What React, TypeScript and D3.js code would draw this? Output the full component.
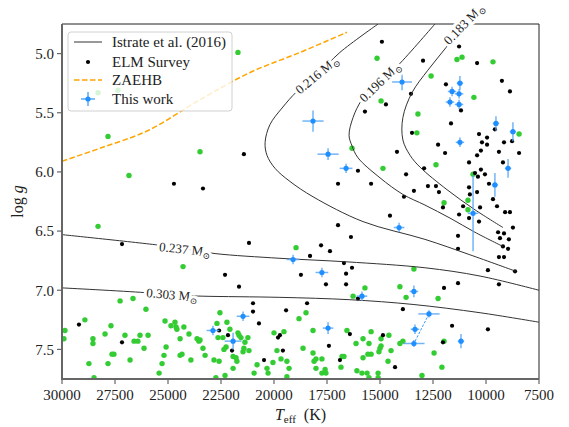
import React from 'react';
import * as d3 from 'd3';

const W = 569;
const H = 427;
const PX = { left: 62, right: 539, top: 24, bottom: 379 };

const xTicks = [30000, 27500, 25000, 22500, 20000, 17500, 15000, 12500, 10000, 7500];
const yTicks = [5.0, 5.5, 6.0, 6.5, 7.0, 7.5];

// other white dwarfs (green)
const otherWDs: [number, number][] = [
  [21700,4.99],[28300,5.33],[27360,5.31],[27830,5.70],[23490,5.83],[26840,6.03],[28300,6.46],[24290,6.80],
  [15140,5.04],[11370,5.05],[11130,5.03],[9670,5.07],[12590,5.19],[10570,5.37],[14950,5.40],[13210,5.51],[8440,5.68],[13260,5.67],[16320,5.80],[14860,5.97],[12360,5.94],[10610,6.02],[11980,6.26],[10850,6.24],[10850,6.32],[18960,6.64],[13400,6.82],
  [27260,7.09],[26650,7.07],[26040,7.16],[28920,7.25],[29860,7.34],[29910,7.41],[27690,7.30],[27970,7.37],[28540,7.41],[28540,7.45],[27030,7.38],[26320,7.38],[25940,7.38],[26600,7.43],[26420,7.43],[26130,7.49],[25140,7.26],[24860,7.30],[24670,7.27],[24620,7.31],[24580,7.33],[24250,7.31],[24010,7.37],[24430,7.41],[23630,7.41],[23540,7.43],[25090,7.48],[27640,7.54],[27550,7.54],[26790,7.59],[28730,7.62],[27830,7.62],[25280,7.62],[25190,7.55],[24430,7.55],[24340,7.54],[23920,7.59],[25420,7.70],[28490,7.74],
  [22550,7.19],[18490,7.19],[18820,7.24],[22690,7.28],[22220,7.27],[22080,7.33],[22640,7.40],[22410,7.40],[21700,7.36],[21650,7.38],[21560,7.40],[21230,7.40],[23350,7.49],[22260,7.48],[22360,7.50],[21370,7.44],[21420,7.49],[21460,7.52],[21180,7.51],[23250,7.55],[21930,7.56],[21750,7.60],[21790,7.57],[22830,7.59],[22590,7.60],[20000,7.36],[19530,7.35],[19860,7.51],[19670,7.58],[19390,7.60],[20800,7.63],[20050,7.61],[21930,7.66],[20330,7.66],[20280,7.70],[19290,7.66],[22310,7.72],[20940,7.70],[19390,7.73],[22740,7.74],[18160,7.34],[18630,7.49],[18160,7.53],[18020,7.58],[18110,7.60],[17740,7.58],[18020,7.66],[17590,7.67],[17740,7.70],[17550,7.70],[23490,7.42],
  [15710,6.98],[16270,7.05],[14060,6.97],[13770,7.06],[12260,7.07],[11980,7.43],[13920,7.43],[14060,7.45],[16560,7.34],[15420,7.35],[14580,7.38],[14950,7.41],[16130,7.45],[15800,7.41],[15520,7.45],[14950,7.47],[15000,7.49],[15050,7.52],[14480,7.51],[15570,7.54],[15420,7.54],[15800,7.57],[14620,7.60],[16790,7.56],[16700,7.56],[16840,7.65],[12450,7.53],[12080,7.65],[16090,7.68],[15850,7.70],[15610,7.70],[15090,7.70],[15520,7.74],[15090,7.74],[13020,7.72],
];

// ELM Survey (black)
const elmSurvey: [number, number][] = [
  [21420,5.85],[24720,6.10],[23350,6.14],[27170,6.61],[21180,6.60],[22310,6.87],[21650,6.97],[20990,7.11],[20990,7.18],[19430,7.17],[20710,7.28],[29200,7.29],[27170,7.44],
  [14910,4.90],[12970,5.06],[11270,4.94],[10420,5.08],[11890,5.26],[9250,5.23],[8870,5.32],[14720,5.43],[15710,5.49],[11180,5.48],[13540,5.34],[11650,5.59],[9580,5.64],[13490,5.67],[10330,5.68],[9950,5.71],
  [10190,5.75],[9950,5.77],[12260,5.77],[9150,5.75],[8770,5.74],[10240,5.82],[9390,5.83],[8440,5.84],[11930,5.84],[10420,5.86],[14200,5.83],[10800,5.92],[9200,5.92],[12920,5.97],[16040,5.99],[13770,6.02],
  [10240,5.98],[10520,6.01],[10050,6.02],[10380,6.04],[9860,6.10],[16980,6.10],[15420,6.10],[12740,6.12],[12360,6.12],[13400,6.16],[12220,6.17],[10800,6.13],[10420,6.17],[10760,6.19],[9670,6.23],[13870,6.21],
  [11080,6.29],[10280,6.30],[9480,6.29],[12030,6.30],[9100,6.34],[8870,6.34],[11270,6.36],[14530,6.37],[10800,6.39],[10330,6.42],[8730,6.47],[16980,6.45],[9430,6.51],[9150,6.52],[11320,6.54],[9340,6.56],[8920,6.57],
  [16370,6.55],[17780,6.62],[17360,6.67],[9200,6.63],[8960,6.65],[11320,6.65],[18300,6.71],[9390,6.72],[9150,6.72],[16700,6.77],[16320,6.81],[18730,6.87],[16600,6.86],[9910,6.83],[8630,6.84],[11320,6.94],[9390,6.95],
  [17550,6.95],[16600,6.95],[18440,7.11],[19720,7.38],[19810,7.40],[19580,7.51],[20470,7.59],[16890,7.59],[22590,7.34],[22170,7.38],[21980,7.51],[16040,7.07],[11980,6.98],[13920,7.16],[11600,7.30],[12030,7.44],[16420,7.37],[14860,7.38],[14290,7.65],[9910,7.33],[17410,7.47],
];

// This work: Teff, logg, err Teff, err logg
const thisWork: [number, number, number, number][] = [
  [13960,5.24,470,0.07],[11230,5.25,150,0.06],[11600,5.32,200,0.04],[11270,5.34,200,0.04],[11700,5.41,200,0.04],[11270,5.43,200,0.04],
  [18160,5.57,500,0.09],[9530,5.59,150,0.06],[8730,5.66,150,0.08],[11230,5.75,200,0.04],[17450,5.85,500,0.05],[16600,5.97,300,0.04],
  [8960,5.97,150,0.08],[9580,6.11,150,0.10],[10610,6.35,250,0.32],[14100,6.47,250,0.04],[19100,6.74,300,0.04],[17740,6.85,300,0.04],
  [15850,7.05,250,0.04],[13400,7.01,200,0.05],[12690,7.20,500,0.03],[13350,7.33,200,0.04],[17450,7.32,250,0.05],[13400,7.45,500,0.03],
  [11180,7.43,150,0.06],[21460,7.22,300,0.04],[22880,7.34,300,0.04],[21930,7.43,400,0.07],
];
const linkedPair: [number, number][] = [[12690, 7.20], [13400, 7.45]];

// Istrate et al. (2016) tracks
const track0183: [number, number][] = [[10140,4.59],[11040,4.75],[11890,4.95],[12740,5.14],[13490,5.33],[13920,5.54],[13920,5.73],[13580,5.86],[13110,5.96],[11840,6.15],[10520,6.32],[9200,6.47]];
const track0196: [number, number][] = [[12410,4.75],[14150,5.10],[15000,5.24],[15850,5.39],[16270,5.54],[16460,5.69],[16320,5.78],[16040,5.88],[15000,6.05],[13920,6.19],[12880,6.28],[11700,6.39],[10520,6.51],[9200,6.63]];
const track0216: [number, number][] = [[15090,4.75],[16890,4.99],[17970,5.18],[18920,5.32],[19620,5.46],[20190,5.60],[20420,5.75],[20330,5.86],[19950,5.97],[19250,6.08],[18160,6.21],[15800,6.42],[12880,6.57],[10760,6.70],[8590,6.84]];
const track0237: [number, number][] = [[30000,6.53],[25380,6.62],[24200,6.65],[22780,6.69],[19720,6.73],[16560,6.76],[12880,6.81],[10280,6.88],[7500,7.00]];
const track0303: [number, number][] = [[30000,6.98],[26090,7.02],[24810,7.04],[23400,7.05],[19720,7.06],[16420,7.08],[13440,7.12],[10280,7.19],[7500,7.27]];
const trackLabels = ['0.183', '0.196', '0.216', '0.237', '0.303'];
const trackLabelAt: [number, number][] = [[11040,4.75],[15000,5.24],[17970,5.18],[24200,6.655],[24810,7.04]];
const trackLabelAngle = [-46, -44, -40, 6, 5];

const zaehb: [number, number][] = [[30000,5.91],[28210,5.80],[25940,5.65],[23490,5.39],[21130,5.16],[18770,4.99],[16560,4.82]];

const FONT = '"Liberation Serif", "DejaVu Serif", serif';

export default function App() {
  const x = d3.scaleLinear().domain([30000, 7500]).range([PX.left, PX.right]);
  const y = d3.scaleLinear().domain([4.75, 7.75]).range([PX.top, PX.bottom]);
  const line = d3.line<[number, number]>().x(d => x(d[0])).y(d => y(d[1])).curve(d3.curveCatmullRom.alpha(0.5));
  const tracks = [track0183, track0196, track0216, track0237, track0303];
  const blue = '#1f8fff';
  const blueErr = '#5aa8f5';
  const green = '#33cc33';

  return (
    <svg width={W} height={H} style={{ position: 'absolute', left: 0, top: 0, background: '#fff' }} fontFamily={FONT}>
      <defs>
        <clipPath id="plotclip">
          <rect x={PX.left} y={PX.top} width={PX.right - PX.left} height={PX.bottom - PX.top} />
        </clipPath>
      </defs>
      <g clipPath="url(#plotclip)">
        {otherWDs.map((d, i) => (
          <circle key={'g' + i} cx={x(d[0])} cy={y(d[1])} r={2.7} fill={green} />
        ))}
        {elmSurvey.map((d, i) => (
          <circle key={'b' + i} cx={x(d[0])} cy={y(d[1])} r={2.1} fill="#000" />
        ))}
        {tracks.map((t, i) => (
          <path key={'t' + i} d={line(t) || ''} fill="none" stroke="#333" strokeWidth={1} />
        ))}
        <path d={line(zaehb) || ''} fill="none" stroke="#ffa500" strokeWidth={1.5} strokeDasharray="5.5,2.5" />
        <path d={d3.line<[number, number]>().x(d => x(d[0])).y(d => y(d[1]))(linkedPair) || ''} fill="none" stroke={blue} strokeWidth={0.9} strokeDasharray="2.5,1.5" />
        {thisWork.map((d, i) => {
          const cx = x(d[0]);
          const cy = y(d[1]);
          return (
            <g key={'w' + i}>
              <line x1={x(d[0] - d[2])} x2={x(d[0] + d[2])} y1={cy} y2={cy} stroke={blueErr} strokeWidth={1.5} opacity={0.85} />
              <line x1={cx} x2={cx} y1={y(d[1] - d[3])} y2={y(d[1] + d[3])} stroke={blueErr} strokeWidth={1.5} opacity={0.85} />
              <circle cx={cx} cy={cy} r={2.6} fill={blue} />
            </g>
          );
        })}
      </g>

      {/* spines */}
      <line x1={PX.left} x2={PX.right} y1={PX.top} y2={PX.top} stroke="#222" strokeWidth={1} />
      <line x1={PX.right} x2={PX.right} y1={PX.top} y2={PX.bottom} stroke="#222" strokeWidth={1} />
      <line x1={PX.left} x2={PX.left} y1={PX.top} y2={PX.bottom + 1} stroke="#666" strokeWidth={2} />
      <line x1={PX.left - 1} x2={PX.right} y1={PX.bottom} y2={PX.bottom} stroke="#666" strokeWidth={2} />

      {/* track labels */}
      {trackLabels.map((lab, i) => {
        const p = trackLabelAt[i];
        return (
          <g key={'l' + i} transform={`translate(${x(p[0])},${y(p[1])}) rotate(${trackLabelAngle[i]})`}>
            <text textAnchor="middle" dy="0.33em" fontSize={13} fill="#222" stroke="#fff" strokeWidth={6} strokeLinejoin="round" style={{ paintOrder: 'stroke' }}>
              {lab} M<tspan fontSize={9} dy="3">⊙</tspan>
            </text>
          </g>
        );
      })}

      {/* ticks */}
      {xTicks.map(t => (
        <g key={'xt' + t}>
          <line x1={x(t)} x2={x(t)} y1={PX.bottom} y2={PX.bottom + 5} stroke="#666" strokeWidth={1.2} />
          <text x={x(t)} y={400} textAnchor="middle" fontSize={15} fill="#222">{t}</text>
        </g>
      ))}
      {yTicks.map(t => (
        <g key={'yt' + t}>
          <line x1={PX.left - 5} x2={PX.left} y1={y(t)} y2={y(t)} stroke="#666" strokeWidth={1.2} />
          <text x={54} y={y(t)} dy="0.36em" textAnchor="end" fontSize={15} fill="#222">{d3.format('.1f')(t)}</text>
        </g>
      ))}

      {/* axis labels */}
      <text transform={`translate(23,${(PX.top + PX.bottom) / 2}) rotate(-90)`} textAnchor="middle" fontSize={16} fill="#222">
        log <tspan fontStyle="italic">g</tspan>
      </text>
      <text x={(PX.left + PX.right) / 2} y={420} textAnchor="middle" fontSize={16} fill="#222">
        <tspan fontStyle="italic">T</tspan><tspan fontSize={11} dy="3">eff</tspan><tspan dy="-3">{'\u00a0\u00a0(K)'}</tspan>
      </text>

      {/* legend */}
      <g>
        <rect x={68} y={32} width={164} height={79} rx={3} fill="#fff" fillOpacity={0.8} stroke="#d0d0d0" strokeWidth={1} />
        <line x1={74} x2={102} y1={42} y2={42} stroke="#333" strokeWidth={1} />
        <text x={112} y={47} fontSize={15} fill="#222">Istrate et al. (2016)</text>
        <circle cx={88} cy={62} r={2.1} fill="#000" />
        <text x={112} y={67} fontSize={15} fill="#222">ELM Survey</text>
        <line x1={74} x2={102} y1={80} y2={80} stroke="#ffa500" strokeWidth={1.5} strokeDasharray="5.5,2.5" />
        <text x={112} y={85} fontSize={15} fill="#222">ZAEHB</text>
        <line x1={81} x2={95} y1={99} y2={99} stroke={blueErr} strokeWidth={1.5} />
        <line x1={88} x2={88} y1={92} y2={106} stroke={blueErr} strokeWidth={1.5} />
        <circle cx={88} cy={99} r={2.6} fill={blue} />
        <text x={112} y={104} fontSize={15} fill="#222">This work</text>
      </g>
    </svg>
  );
}
